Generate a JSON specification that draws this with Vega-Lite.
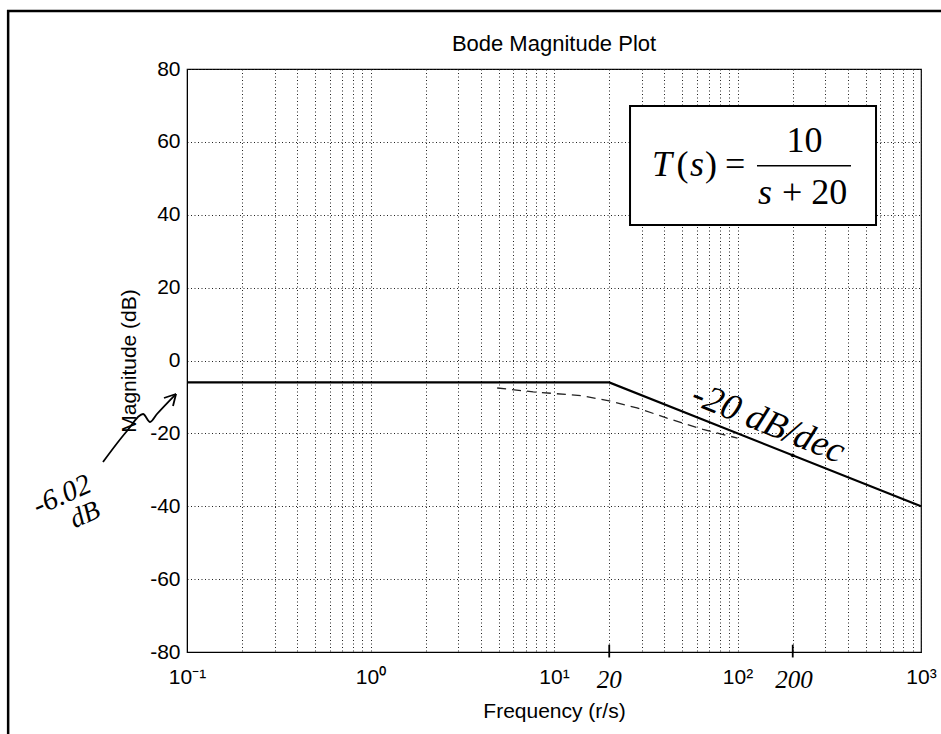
{
  "$schema": "https://vega.github.io/schema/vega-lite/v6.json",
  "width": 734,
  "height": 583,
  "autosize": {"type": "none"},
  "padding": {"left": 187, "top": 69, "right": 20, "bottom": 82},
  "background": "white",
  "title": {"text": "Bode Magnitude Plot", "font": "Liberation Sans", "fontSize": 22, "fontWeight": "normal", "color": "#000", "frame": "group", "anchor": "middle", "offset": -46},
  "config": {
    "view": {"stroke": "#000", "strokeWidth": 1.2},
    "axis": {
      "labelFont": "Liberation Sans", "labelFontSize": 21, "labelColor": "#000",
      "titleFont": "Liberation Sans", "titleFontSize": 21, "titleFontWeight": "normal", "titleColor": "#000",
      "gridColor": "#222", "gridDash": [1, 2.5], "gridWidth": 1, "gridOpacity": 1,
      "domainColor": "#000", "ticks": false, "labelOverlap": false, "labelFlush": false
    }
  },
  "datasets": {
    "frame": [{"f": 0.0106, "f2": 1400, "m": 95.9, "m2": -120}],
    "asym": [{"f": 0.1, "m": -6.02}, {"f": 20, "m": -6.02}, {"f": 1000, "m": -40}],
    "exact": [
      {"f": 4.9, "m": -7.55}, {"f": 7.7, "m": -8.6}, {"f": 14.4, "m": -9.7}, {"f": 20, "m": -11.1},
      {"f": 28.3, "m": -13.0}, {"f": 41.3, "m": -15.8}, {"f": 64.9, "m": -18.9}, {"f": 100, "m": -21.3}
    ],
    "box": [{"f": 25.96, "f2": 568.7, "m": 69.85, "m2": 37.19}],
    "italicParts": [
      {"f": 34.2, "m": 50.64, "label": "T"},
      {"f": 55.1, "m": 50.64, "label": "s"},
      {"f": 129.3, "m": 42.87, "label": "s"}
    ],
    "romanParts": [
      {"f": 46.5, "m": 50.64, "label": "("},
      {"f": 66.5, "m": 50.64, "label": ")"},
      {"f": 85.5, "m": 50.64, "label": "="},
      {"f": 174.8, "m": 42.87, "label": "+ 20"}
    ],
    "numer": [{"f": 231.8, "m": 57.3, "label": "10"}],
    "fracline": [{"f": 127.7, "f2": 415.4, "m": 53.46}],
    "slope": [{"f": 147, "m": -17.2, "label": "-20 dB/dec"}],
    "gainA": [{"f": 0.02085, "m": -36.9, "label": "-6.02"}],
    "gainB": [{"f": 0.0278, "m": -42.4, "label": "dB"}],
    "handLabels": [{"f": 20, "m": -89.88, "label": "20"}, {"f": 203, "m": -89.88, "label": "200"}],
    "handTicks": [{"f": 20, "m": -78, "m2": -81.5}, {"f": 200, "m": -78, "m2": -81.5}],
    "dot": [{"f": 200, "m": -26.02}],
    "arrow": [
      {"seg": "a", "o": 1, "f": 0.03485, "m": -27.86},
      {"seg": "a", "o": 2, "f": 0.0471, "m": -19.35},
      {"seg": "a", "o": 3, "f": 0.0576, "m": -14.68},
      {"seg": "a", "o": 4, "f": 0.0629, "m": -16.88},
      {"seg": "a", "o": 5, "f": 0.0686, "m": -14.68},
      {"seg": "a", "o": 6, "f": 0.0871, "m": -9.19},
      {"seg": "b", "o": 1, "f": 0.0871, "m": -9.19},
      {"seg": "b", "o": 2, "f": 0.0749, "m": -10.29},
      {"seg": "c", "o": 1, "f": 0.0871, "m": -9.19},
      {"seg": "c", "o": 2, "f": 0.0839, "m": -12.49}
    ]
  },
  "encoding": {
    "x": {
      "field": "f", "type": "quantitative",
      "scale": {"type": "log", "domain": [0.1, 1000], "nice": false},
      "axis": {
        "title": "Frequency (r/s)",
        "values": [0.1, 0.2, 0.3, 0.4, 0.5, 0.6, 0.7, 0.8, 0.9, 1, 2, 3, 4, 5, 6, 7, 8, 9, 10, 20, 30, 40, 50, 60, 70, 80, 90, 100, 200, 300, 400, 500, 600, 700, 800, 900, 1000],
        "labelExpr": "datum.value == 0.1 ? '10⁻¹' : datum.value == 1 ? '10⁰' : datum.value == 10 ? '10¹' : datum.value == 100 ? '10²' : datum.value == 1000 ? '10³' : ''",
        "labelPadding": 14,
        "titlePadding": 13
      }
    },
    "y": {
      "field": "m", "type": "quantitative",
      "scale": {"domain": [-80, 80], "nice": false, "zero": false},
      "axis": {
        "title": "Magnitude (dB)",
        "values": [-80, -60, -40, -20, 0, 20, 40, 60, 80],
        "labelExpr": "'' + datum.value",
        "labelPadding": 7,
        "titlePadding": 10
      }
    }
  },
  "layer": [
    {
      "data": {"name": "frame"},
      "mark": {"type": "rect", "fillOpacity": 0, "stroke": "#000", "strokeWidth": 2.5, "clip": false},
      "encoding": {"x2": {"field": "f2"}, "y2": {"field": "m2"}}
    },
    {
      "data": {"name": "exact"},
      "mark": {"type": "line", "color": "#222", "strokeWidth": 1.3, "strokeDash": [9, 6]},
      "encoding": {}
    },
    {
      "data": {"name": "asym"},
      "mark": {"type": "line", "color": "#000", "strokeWidth": 2.2},
      "encoding": {}
    },
    {
      "data": {"name": "box"},
      "mark": {"type": "rect", "fill": "#fff", "stroke": "#000", "strokeWidth": 2},
      "encoding": {"x2": {"field": "f2"}, "y2": {"field": "m2"}}
    },
    {
      "data": {"name": "italicParts"},
      "mark": {"type": "text", "font": "Liberation Serif", "fontStyle": "italic", "fontSize": 36, "align": "left", "baseline": "alphabetic", "color": "#000"},
      "encoding": {"text": {"field": "label"}}
    },
    {
      "data": {"name": "romanParts"},
      "mark": {"type": "text", "font": "Liberation Serif", "fontSize": 36, "align": "left", "baseline": "alphabetic", "color": "#000"},
      "encoding": {"text": {"field": "label"}}
    },
    {
      "data": {"name": "numer"},
      "mark": {"type": "text", "font": "Liberation Serif", "fontSize": 36, "align": "center", "baseline": "alphabetic", "color": "#000"},
      "encoding": {"text": {"field": "label"}}
    },
    {
      "data": {"name": "fracline"},
      "mark": {"type": "rule", "color": "#000", "strokeWidth": 1.6},
      "encoding": {"x2": {"field": "f2"}}
    },
    {
      "data": {"name": "slope"},
      "mark": {"type": "text", "font": "Liberation Serif", "fontStyle": "italic", "fontSize": 37, "angle": 22, "align": "center", "baseline": "middle", "color": "#000"},
      "encoding": {"text": {"field": "label"}}
    },
    {
      "data": {"name": "gainA"},
      "mark": {"type": "text", "font": "Liberation Serif", "fontStyle": "italic", "fontSize": 29, "angle": -24, "align": "center", "baseline": "middle", "color": "#000", "clip": false},
      "encoding": {"text": {"field": "label"}}
    },
    {
      "data": {"name": "gainB"},
      "mark": {"type": "text", "font": "Liberation Serif", "fontStyle": "italic", "fontSize": 27, "angle": -25, "align": "center", "baseline": "middle", "color": "#000", "clip": false},
      "encoding": {"text": {"field": "label"}}
    },
    {
      "data": {"name": "handLabels"},
      "mark": {"type": "text", "font": "Liberation Serif", "fontStyle": "italic", "fontSize": 25, "align": "center", "baseline": "alphabetic", "color": "#000"},
      "encoding": {"text": {"field": "label"}}
    },
    {
      "data": {"name": "handTicks"},
      "mark": {"type": "rule", "color": "#000", "strokeWidth": 1.8},
      "encoding": {"y2": {"field": "m2"}}
    },
    {
      "data": {"name": "dot"},
      "mark": {"type": "point", "filled": true, "color": "#000", "size": 14, "opacity": 1},
      "encoding": {}
    },
    {
      "data": {"name": "arrow"},
      "mark": {"type": "line", "color": "#000", "strokeWidth": 1.8, "interpolate": "monotone"},
      "encoding": {"detail": {"field": "seg"}, "order": {"field": "o"}}
    }
  ]
}
